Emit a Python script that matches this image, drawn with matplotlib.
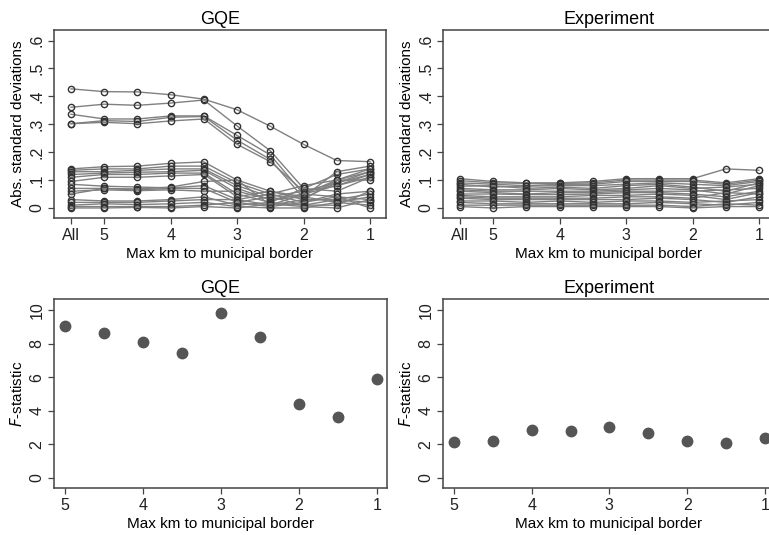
import matplotlib
matplotlib.use("Agg")
import matplotlib.pyplot as plt

plt.rcParams['font.family'] = ['Liberation Sans', 'DejaVu Sans']

# x positions: "All" is drawn one step left of 5
km_pos = [5.5, 5, 4.5, 4, 3.5, 3, 2.5, 2, 1.5, 1]
km_ticks = [5.5, 5, 4, 3, 2, 1]
km_ticklabels = ['All', '5', '4', '3', '2', '1']
sd_ticks = [0, 0.1, 0.2, 0.3, 0.4, 0.5, 0.6]
sd_ticklabels = ['0', '.1', '.2', '.3', '.4', '.5', '.6']

# GQE: absolute standardized differences by covariate
gqe_sd = [
    [.427, .417, .416, .406, .390, .352, .293, .228, .170, .166],
    [.361, .372, .368, .376, .387, .294, .205, .070, .120, .140],
    [.336, .319, .319, .330, .330, .260, .190, .050, .100, .130],
    [.302, .313, .310, .325, .328, .243, .174, .035, .090, .120],
    [.302, .307, .302, .312, .319, .228, .166, .060, .080, .110],
    [.140, .148, .150, .160, .165, .100, .060, .040, .130, .150],
    [.135, .140, .140, .150, .150, .090, .050, .080, .100, .140],
    [.130, .130, .135, .140, .140, .080, .040, .060, .090, .130],
    [.120, .125, .128, .130, .135, .070, .030, .050, .080, .120],
    [.110, .120, .120, .125, .125, .050, .020, .070, .060, .110],
    [.095, .110, .110, .115, .120, .040, .060, .030, .100, .100],
    [.085, .078, .075, .072, .080, .030, .050, .020, .050, .060],
    [.070, .070, .065, .070, .070, .020, .040, .010, .030, .050],
    [.060, .065, .062, .065, .060, .060, .030, .040, .020, .040],
    [.050, .070, .068, .075, .095, .100, .010, .050, .040, .030],
    [.030, .025, .025, .030, .040, .010, .020, .010, .010, .060],
    [.020, .020, .020, .025, .030, .030, .010, .030, .030, .020],
    [.010, .015, .012, .015, .020, .005, .000, .000, .020, .010],
    [.005, .005, .005, .005, .010, .020, .005, .020, .040, .000],
    [.000, .000, .002, .000, .005, .000, .015, .005, .000, .030],
]

# Experiment
exp_sd = [
    [.105, .095, .090, .090, .095, .105, .105, .105, .140, .135],
    [.098, .090, .088, .088, .090, .100, .100, .100, .090, .105],
    [.090, .085, .080, .085, .085, .095, .095, .095, .085, .100],
    [.085, .075, .078, .080, .080, .085, .090, .085, .080, .095],
    [.078, .080, .070, .075, .070, .080, .085, .075, .060, .090],
    [.070, .065, .065, .070, .065, .070, .080, .070, .075, .085],
    [.065, .060, .060, .060, .060, .065, .070, .065, .050, .080],
    [.060, .055, .050, .055, .055, .060, .060, .060, .065, .070],
    [.050, .050, .048, .048, .050, .055, .055, .050, .040, .060],
    [.045, .040, .040, .040, .045, .045, .050, .045, .030, .055],
    [.040, .035, .035, .035, .035, .040, .040, .035, .055, .050],
    [.035, .030, .030, .030, .030, .030, .035, .030, .020, .040],
    [.025, .025, .020, .025, .020, .025, .025, .020, .025, .030],
    [.020, .015, .015, .015, .015, .015, .020, .015, .010, .020],
    [.010, .010, .010, .010, .010, .010, .010, .005, .015, .010],
    [.005, .000, .005, .005, .005, .005, .005, .000, .005, .005],
]

# F-statistics
f_km = [5, 4.5, 4, 3.5, 3, 2.5, 2, 1.5, 1]
f_gqe = [9.07, 8.61, 8.11, 7.46, 9.84, 8.37, 4.40, 3.63, 5.89]
f_exp = [2.16, 2.22, 2.83, 2.77, 3.04, 2.67, 2.18, 2.08, 2.40]

W, H = 769, 535
fig = plt.figure(figsize=(W / 100, H / 100), dpi=100)

def box(x0, x1, ytop, ybot):
    return [x0 / W, (H - ybot) / H, (x1 - x0) / W, (ybot - ytop) / H]

spine_col = '#444444'

def style(ax):
    for s in ax.spines.values():
        s.set_color(spine_col)
        s.set_linewidth(1.1)
    ax.tick_params(direction='out', length=4, width=0.9, color=spine_col,
                   labelsize=11.5, labelcolor='#222222', pad=3)
    for lab in ax.get_yticklabels():
        lab.set_rotation(90)
        lab.set_va('center')

def sd_panel(ax, data, title):
    for row in data:
        ax.plot(km_pos, row, color='#808080', linewidth=1.0,
                marker='o', markersize=4.5, markerfacecolor='none',
                markeredgecolor='#333333', markeredgewidth=1.0)
    ax.set_xlim(5.756, 0.759)
    ax.set_ylim(-0.036, 0.638)
    ax.set_xticks(km_ticks)
    ax.set_xticklabels(km_ticklabels)
    ax.set_yticks(sd_ticks)
    ax.set_yticklabels(sd_ticklabels)
    ax.set_title(title, fontsize=13, pad=4)
    ax.set_xlabel('Max km to municipal border', fontsize=11, labelpad=3)
    ax.set_ylabel('Abs. standard deviations', fontsize=11, labelpad=3)
    style(ax)

def f_panel(ax, vals, title):
    ax.plot(f_km, vals, linestyle='none', marker='o', markersize=7.5,
            color='#555555')
    ax.set_xlim(5.14, 0.87)
    ax.set_ylim(-0.6, 10.65)
    ax.set_xticks([5, 4, 3, 2, 1])
    ax.set_yticks([0, 2, 4, 6, 8, 10])
    ax.set_title(title, fontsize=13, pad=4)
    ax.set_xlabel('Max km to municipal border', fontsize=11, labelpad=3)
    ax.set_ylabel('$\\mathit{F}$-statistic', fontsize=11, labelpad=3)
    style(ax)

ax1 = fig.add_axes(box(54, 386, 30, 218))
sd_panel(ax1, gqe_sd, 'GQE')
ax2 = fig.add_axes(box(443, 775, 30, 218))
sd_panel(ax2, exp_sd, 'Experiment')
ax3 = fig.add_axes(box(54, 387, 299, 488))
f_panel(ax3, f_gqe, 'GQE')
ax4 = fig.add_axes(box(443, 775, 299, 488))
f_panel(ax4, f_exp, 'Experiment')

fig.savefig('out.png', dpi=100)
